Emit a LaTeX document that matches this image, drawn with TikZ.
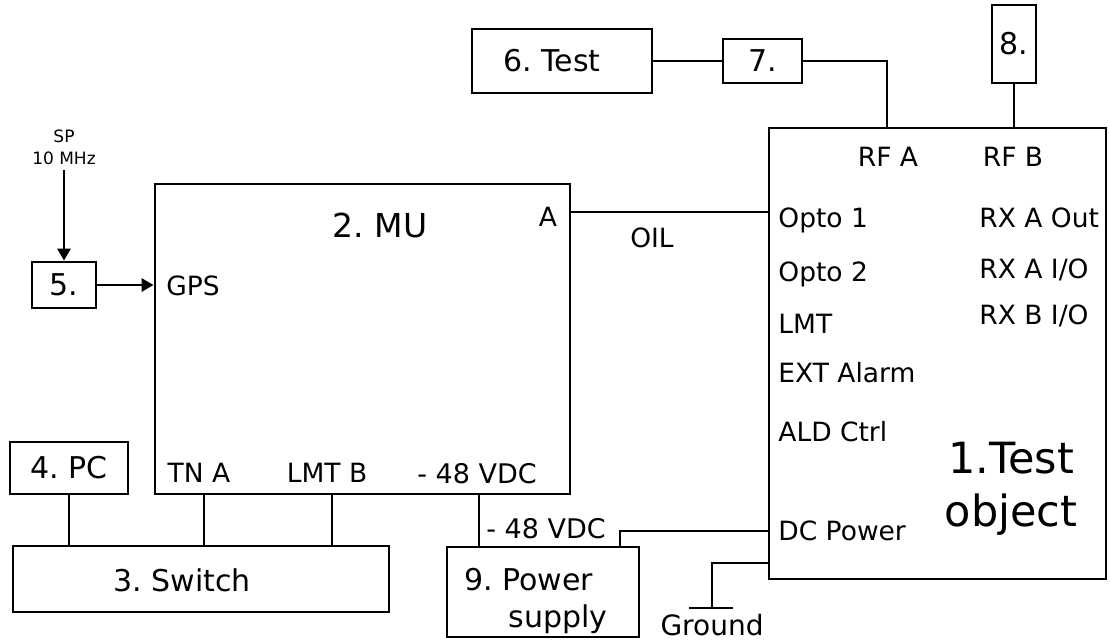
\documentclass[tikz,border=0pt]{standalone}
\usepackage{fontspec}
\setmainfont{DejaVu Sans}
\usetikzlibrary{arrows.meta}
\frenchspacing
\begin{document}
\frenchspacing
\begin{tikzpicture}[x=1pt,y=-1pt,line width=2.8pt,
  box/.style={draw=black,line width=2.8pt,inner sep=0pt,fill=white},
  lbl/.style={inner sep=0pt,font=\fontsize{26.5}{31}\selectfont,anchor=base},
  lblw/.style={lbl,anchor=base west},
  boxtxt/.style={inner sep=0pt,font=\fontsize{30}{38}\selectfont},
  small/.style={inner sep=0pt,font=\fontsize{17}{22}\selectfont,align=center},
  wire/.style={draw=black,line width=2.8pt},
  arr/.style={wire,-{Triangle[length=12pt,width=13pt]}}
]
\useasboundingbox (0,0) rectangle (1110,640);

% boxes
\node[box,minimum width=337pt,minimum height=451pt] (b1) at (937.5,353.5) {};
\node[box,minimum width=415pt,minimum height=310pt] (b2) at (362.5,339) {};
\node[box,minimum width=376pt,minimum height=66pt] (b3) at (201,579) {};
\node[box,minimum width=118pt,minimum height=52pt,boxtxt] (b4) at (69,468) {4. PC};
\node[box,minimum width=64pt,minimum height=46pt,boxtxt] (b5) at (64,285) {5.};
\node[box,minimum width=180pt,minimum height=64pt] (b6) at (562,61) {};
\node[box,minimum width=79pt,minimum height=44pt,boxtxt] (b7) at (762.5,61) {7.};
\node[box,minimum width=44pt,minimum height=78pt,boxtxt] (b8) at (1014,44) {8.};
\node[box,minimum width=192pt,minimum height=90pt] (b9) at (543,592) {};

% box texts
\node[boxtxt] (t6) at (552,61) {6. Test};
\node[boxtxt] (t3) at (182,580) {3. Switch};
\node[boxtxt,anchor=base west] (t9a) at (463,590) {9. Power};
\node[boxtxt,anchor=base west] (t9b) at (507,627) {supply};
\node[inner sep=0pt,font=\fontsize{33}{40}\selectfont] (t2) at (380,225) {2. MU};
\node[inner sep=0pt,font=\fontsize{43}{53}\selectfont,align=center] (t1) at (1011,489) {1.Test\\object};

% port labels
\node[lbl] (rfa) at (888,166) {RF A};
\node[lbl] (rfb) at (1013,166) {RF B};
\node[lblw] (opto1) at (777,227) {Opto 1};
\node[lblw] (opto2) at (777,281) {Opto 2};
\node[lblw] (lmt) at (777,333) {LMT};
\node[lblw] (ext) at (777,382) {EXT Alarm};
\node[lblw] (ald) at (777,441) {ALD Ctrl};
\node[lblw] (dcp) at (777,540) {DC Power};
\node[lblw] (rxa) at (978,227) {RX A Out};
\node[lblw] (rxaio) at (978,278) {RX A I/O};
\node[lblw] (rxbio) at (978,324) {RX B I/O};
\node[lbl] (pa) at (548,226) {A};
\node[lblw] (gps) at (165,295) {GPS};
\node[lbl] (oil) at (652,247) {OIL};
\node[lbl] (tna) at (199,482) {TN A};
\node[lbl] (lmtb) at (327,482) {LMT B};
\node[lbl,font=\fontsize{27}{32}\selectfont] (vdc1) at (477,483) {- 48 VDC};
\node[lblw,font=\fontsize{27}{32}\selectfont] (vdc2) at (485,538) {- 48 VDC};
\node[lbl,font=\fontsize{28}{33}\selectfont] (gnd) at (712,635) {Ground};
\node[small] (sp) at (64,147) {SP\\10 MHz};

% coordinates
\coordinate (spend) at (64,170);
\coordinate (ca) at (570,212);
\coordinate (crfa) at (887,128);
\coordinate (xtna) at (204,0);
\coordinate (xlmtb) at (332,0);
\coordinate (xvdc) at (479,0);
\coordinate (xdc) at (620,0);
\coordinate (cdc) at (769,531);
\coordinate (cgnd) at (769,563);
\coordinate (gbot) at (712,608);
\coordinate (gl) at (689,608);
\coordinate (gr) at (733,608);

% connectors
\draw[wire] (b6.east) -- (b7.west);
\draw[wire] (b7.east) -| (crfa);
\draw[wire] (b8.south) -- (b8.south |- b1.north);
\draw[wire] (ca) -- (ca -| b1.west);
\draw[arr] (spend) -- (b5.north);
\draw[arr] (b5.east) -- (b5.east -| b2.west);
\draw[wire] (b4.south) -- (b4.south |- b3.north);
\draw[wire] (b2.south -| xtna) -- (b3.north -| xtna);
\draw[wire] (b2.south -| xlmtb) -- (b3.north -| xlmtb);
\draw[wire] (b2.south -| xvdc) -- (b9.north -| xvdc);
\draw[wire] (b9.north -| xdc) |- (cdc);
\draw[wire] (cgnd) -| (gbot);
\draw[wire] (gl) -- (gr);
\end{tikzpicture}
\end{document}
